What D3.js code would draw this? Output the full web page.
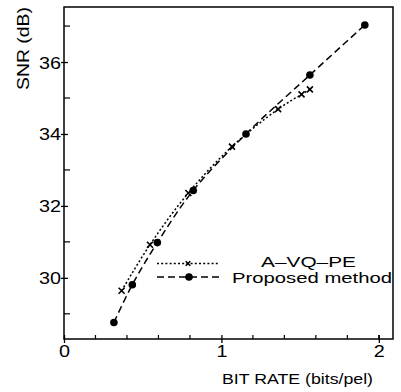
<!DOCTYPE html>
<html><head><meta charset="utf-8">
<script src="https://cdn.jsdelivr.net/npm/d3@7"></script>
<style>body{margin:0;background:#fff}svg{display:block}text{font-family:"Liberation Sans",Arial,sans-serif;fill:#000}</style>
</head><body><svg id="c" width="401" height="392"></svg>
<script>
// Data
const avqpeRate = [0.366, 0.546, 0.79, 1.067, 1.36, 1.509, 1.562];
const avqpeSNR  = [29.64, 30.92, 32.36, 33.65, 34.69, 35.10, 35.24];
const propRate  = [0.317, 0.434, 0.593, 0.821, 1.156, 1.562, 1.911];
const propSNR   = [28.76, 29.81, 30.98, 32.43, 34.00, 35.64, 37.03];
const xTicks = [0, 1, 2];
const xMinor = [0.2,0.4,0.6,0.8,1.2,1.4,1.6,1.8,2.0];
const yTicks = [30, 32, 34, 36];
const yMinor = [29, 31, 33, 35, 37];
const seriesNames = ["A\u2013VQ\u2013PE", "Proposed method"];
const xTitle = "BIT RATE (bits/pel)";
const yTitle = "SNR (dB)";

const svg = d3.select("#c");
const L = 64, R = 393, T = 7, B = 339;
const x = d3.scaleLinear().domain([0, 2.09]).range([L, R]);
const y = d3.scaleLinear().domain([28.3, 37.53]).range([B, T]);

// frame
svg.append("rect").attr("x", L).attr("y", T).attr("width", R - L).attr("height", B - T)
  .attr("fill", "none").attr("stroke", "#000").attr("stroke-width", 1.5);

// axes ticks
const gx = svg.append("g").attr("transform", `translate(0,${B})`);
gx.call(d3.axisBottom(x).tickValues(xTicks).tickSize(0).tickFormat(d3.format("d")))
  .call(g => g.select(".domain").remove());
gx.selectAll(".tick line").remove();
gx.selectAll(".tick").each(function(d){
  const t = d3.select(this);
  t.append("line").attr("y1", -4).attr("y2", 4).attr("stroke", "#000").attr("stroke-width", 1.3);
  t.select("text").attr("y", 0).attr("dy", null)
    .attr("transform", "translate(0,18) scale(1.2,1)")
    .style("font-size", "16.5px").attr("text-anchor", "middle");
});
gx.selectAll(".minor").data(xMinor).enter().append("line")
  .attr("x1", d => x(d)).attr("x2", d => x(d)).attr("y1", 0).attr("y2", -4)
  .attr("stroke", "#000").attr("stroke-width", 1.2);

const gy = svg.append("g").attr("transform", `translate(${L},0)`);
gy.call(d3.axisLeft(y).tickValues(yTicks).tickSize(0).tickFormat(d3.format("d")))
  .call(g => g.select(".domain").remove());
gy.selectAll(".tick line").remove();
gy.selectAll(".tick").each(function(d){
  const t = d3.select(this);
  t.append("line").attr("x1", -3).attr("x2", 4).attr("stroke", "#000").attr("stroke-width", 1.3);
  t.select("text").attr("x", 0).attr("dy", null)
    .attr("transform", "translate(-3,6) scale(1.2,1)")
    .style("font-size", "16.5px").attr("text-anchor", "end");
});
gy.selectAll(".minor").data(yMinor).enter().append("line")
  .attr("y1", d => y(d)).attr("y2", d => y(d)).attr("x1", 0).attr("x2", 6)
  .attr("stroke", "#000").attr("stroke-width", 1.2);

// titles
svg.append("text").attr("transform", "translate(29,48.5) rotate(-90)")
  .attr("text-anchor", "middle").style("font-size", "16px")
  .attr("textLength", 83).attr("lengthAdjust", "spacingAndGlyphs").text(yTitle);
svg.append("text").attr("x", 297.5).attr("y", 384)
  .attr("text-anchor", "middle").style("font-size", "15px")
  .attr("textLength", 151).attr("lengthAdjust", "spacingAndGlyphs").text(xTitle);

// series
const a = avqpeRate.map((r, i) => [r, avqpeSNR[i]]);
const p = propRate.map((r, i) => [r, propSNR[i]]);
const line = d3.line().x(d => x(d[0])).y(d => y(d[1])).curve(d3.curveCatmullRom);

svg.append("path").attr("d", line(a)).attr("fill", "none").attr("stroke", "#000")
  .attr("stroke-width", 1.5).attr("stroke-dasharray", "2,2.2");
svg.append("path").attr("d", line(p)).attr("fill", "none").attr("stroke", "#000")
  .attr("stroke-width", 1.5).attr("stroke-dasharray", "7,4");

function cross(g, cx, cy, s) {
  g.append("path").attr("d", `M${cx-s},${cy-s}L${cx+s},${cy+s}M${cx-s},${cy+s}L${cx+s},${cy-s}`)
    .attr("stroke", "#000").attr("stroke-width", 1.6);
}
const mk = svg.append("g");
a.forEach(d => cross(mk, x(d[0]), y(d[1]), 3));
mk.selectAll("circle").data(p).enter().append("circle")
  .attr("cx", d => x(d[0])).attr("cy", d => y(d[1])).attr("r", 3.8).attr("fill", "#000");

// legend
const lg = svg.append("g");
lg.append("line").attr("x1", 157).attr("x2", 219).attr("y1", 263.5).attr("y2", 263.5)
  .attr("stroke", "#000").attr("stroke-width", 1.4).attr("stroke-dasharray", "2,2.2");
cross(lg, 188, 263.5, 2.3);
lg.append("line").attr("x1", 157).attr("x2", 220).attr("y1", 277).attr("y2", 277)
  .attr("stroke", "#000").attr("stroke-width", 1.5).attr("stroke-dasharray", "7,4");
lg.append("circle").attr("cx", 189).attr("cy", 277).attr("r", 3.8).attr("fill", "#000");
lg.append("text").attr("x", 261).attr("y", 266.5).style("font-size", "15.5px")
  .attr("textLength", 95).attr("lengthAdjust", "spacingAndGlyphs").text(seriesNames[0]);
lg.append("text").attr("x", 232).attr("y", 283).style("font-size", "15.5px")
  .attr("textLength", 160).attr("lengthAdjust", "spacingAndGlyphs").text(seriesNames[1]);
</script></body></html>
